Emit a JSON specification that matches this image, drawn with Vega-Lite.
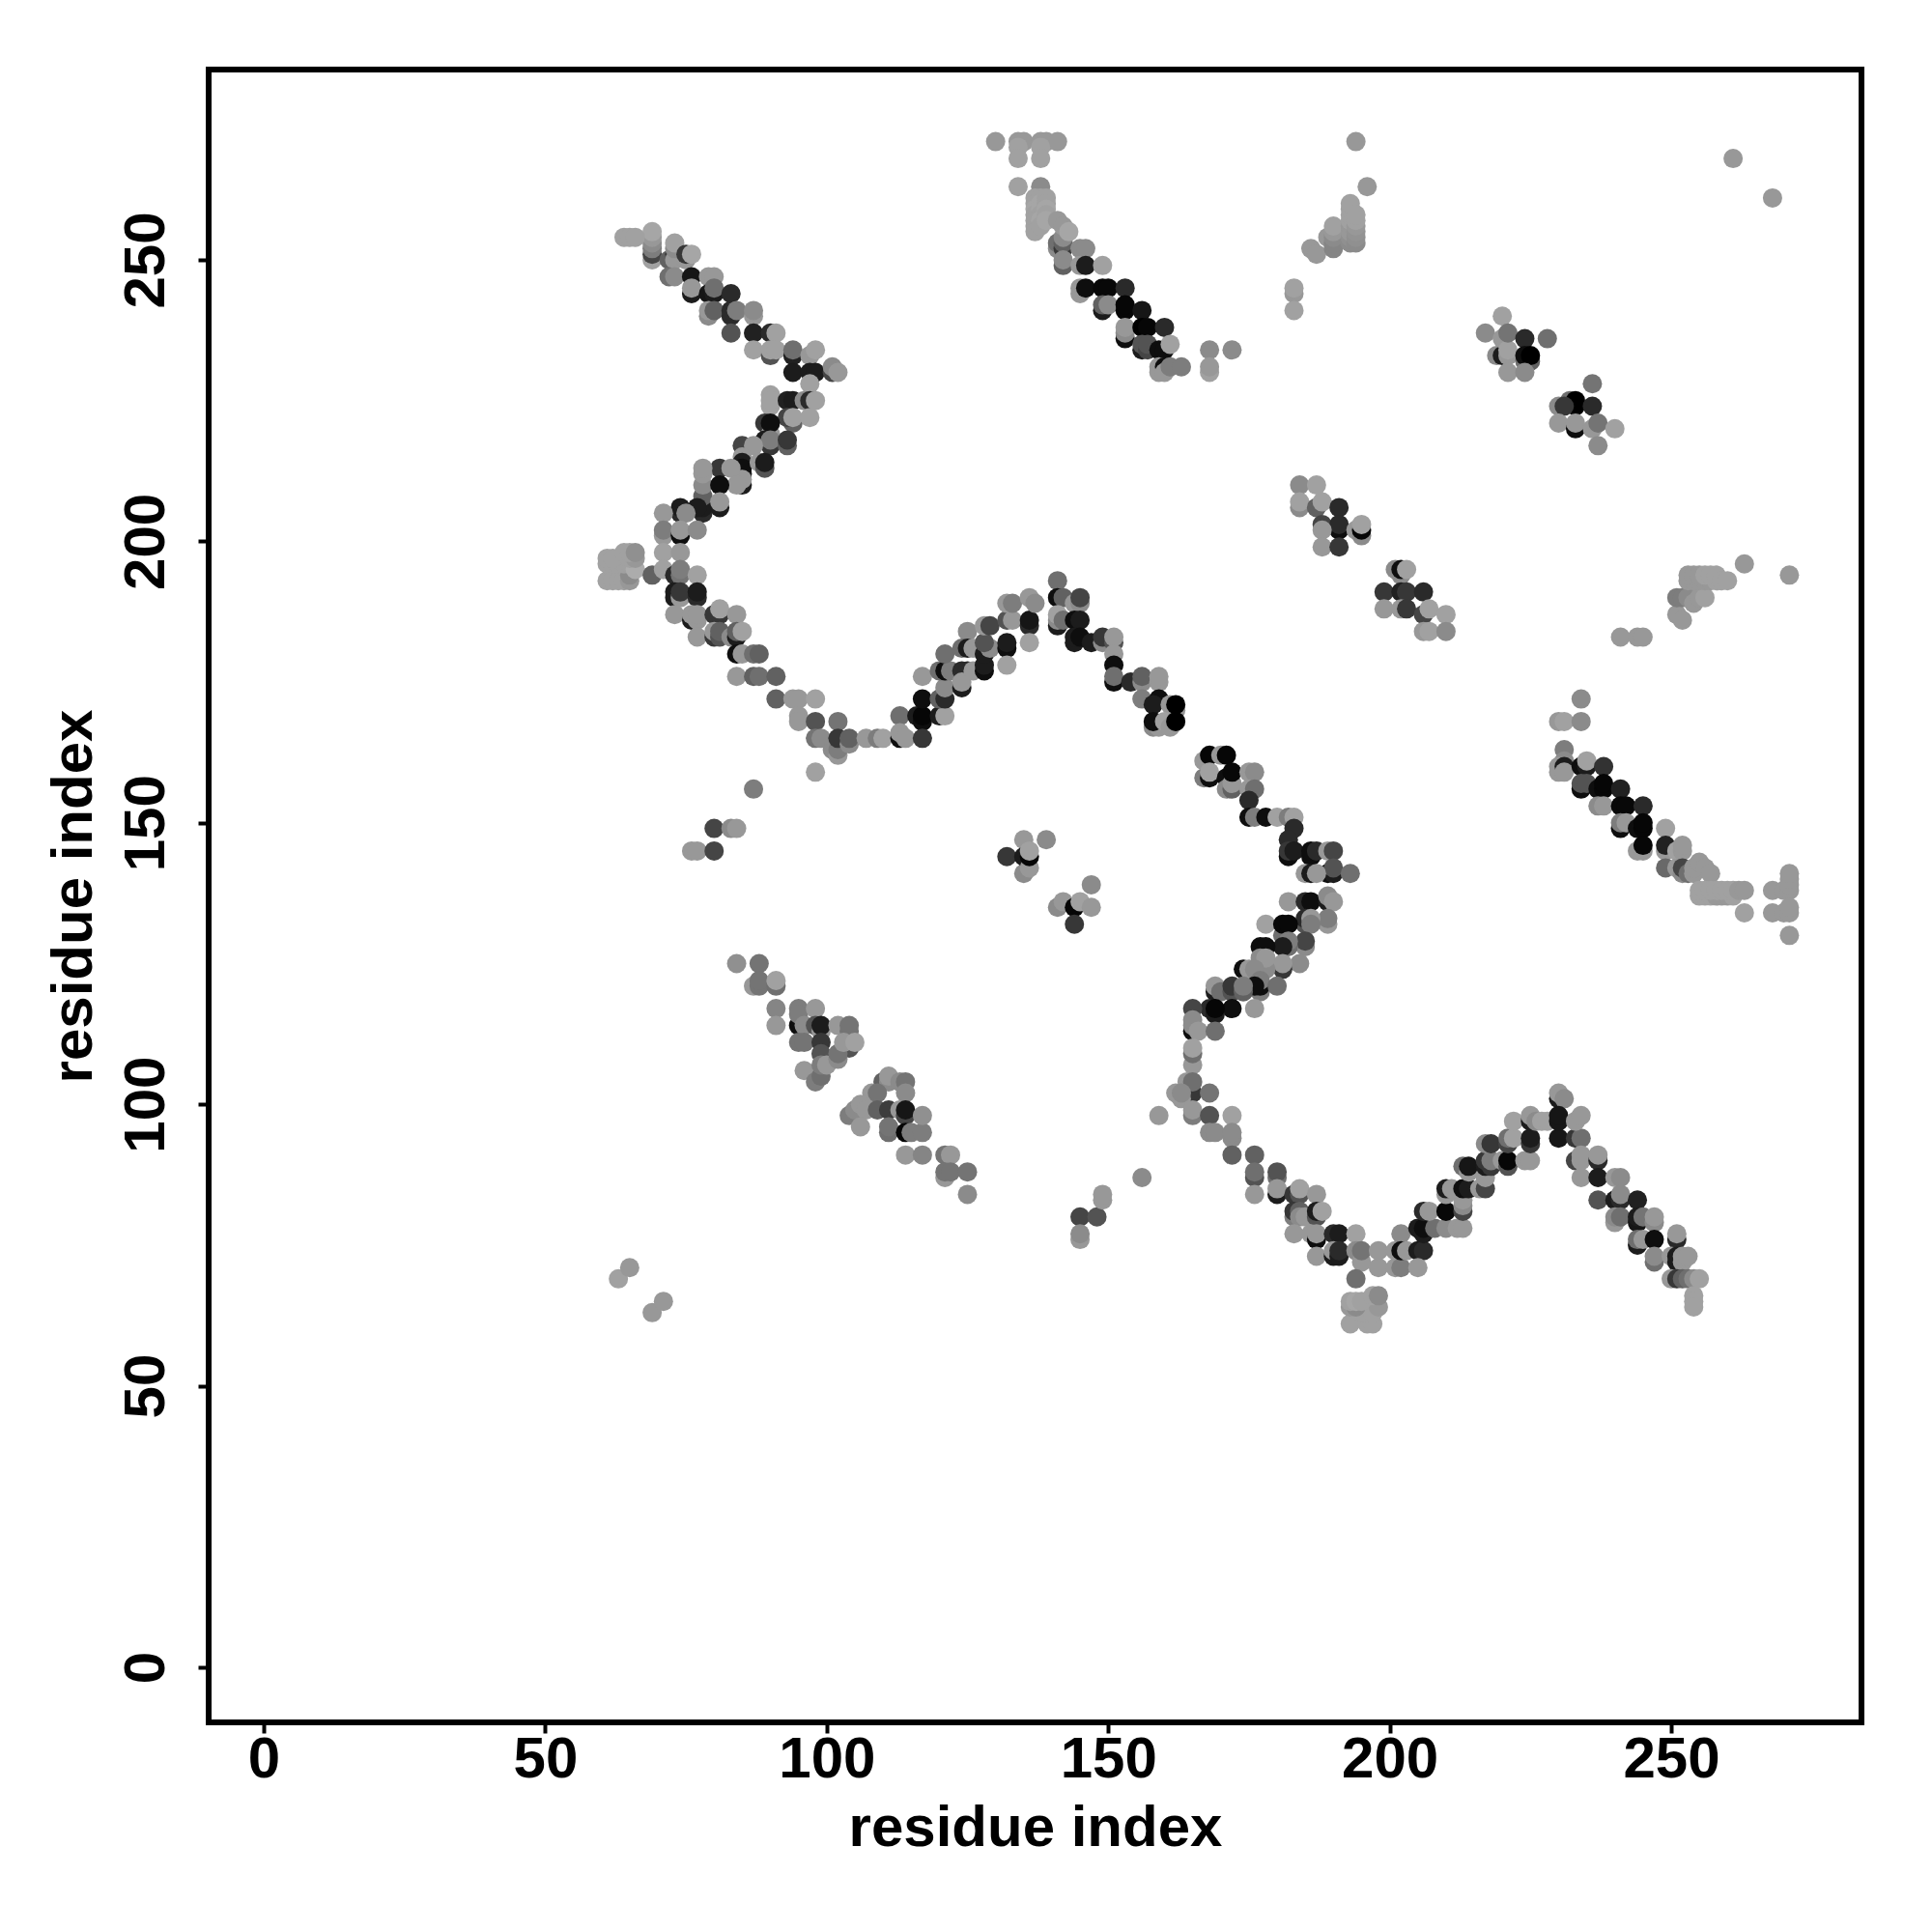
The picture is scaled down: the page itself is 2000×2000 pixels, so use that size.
{"$schema":"https://vega.github.io/schema/vega-lite/v6.json","width":1711,"height":1711,"autosize":{"type":"none"},"padding":{"left":216,"top":72,"right":73,"bottom":217},"background":"white","config":{"view":{"stroke":"#000000","strokeWidth":6,"fill":"white"},"axis":{"grid":false,"domain":false,"tickColor":"#000000","tickWidth":4,"tickSize":11,"labelColor":"#000000","titleColor":"#000000","labelFont":"Liberation Sans","titleFont":"Liberation Sans","labelFontWeight":"bold","titleFontWeight":"bold","labelFontSize":60,"titleFontSize":60}},
"data":{"values":[
{"x":69,"y":250,"v":0.58},{"x":69,"y":251,"v":0.25},{"x":69,"y":252,"v":0.45},{"x":69,"y":253,"v":0.5},{"x":69,"y":254,"v":0.55},{"x":69,"y":255,"v":0.6},{"x":64,"y":254,"v":0.58},{"x":65,"y":254,"v":0.58},{"x":66,"y":254,"v":0.58},
{"x":72,"y":250,"v":0.35},{"x":73,"y":251,"v":0.2},{"x":73,"y":250,"v":0.55},{"x":73,"y":252,"v":0.5},{"x":73,"y":253,"v":0.58},{"x":75,"y":250,"v":0.55},{"x":75,"y":251,"v":0.2},{"x":76,"y":251,"v":0.6},
{"x":72,"y":247,"v":0.4},{"x":73,"y":247,"v":0.5},{"x":76,"y":247,"v":0.08},{"x":79,"y":247,"v":0.55},{"x":80,"y":247,"v":0.55},{"x":76,"y":244,"v":0.1},{"x":76,"y":245,"v":0.55},{"x":79,"y":244,"v":0.08},{"x":80,"y":244,"v":0.1},{"x":80,"y":245,"v":0.4},{"x":83,"y":244,"v":0.15},
{"x":79,"y":240,"v":0.5},{"x":79,"y":241,"v":0.55},{"x":80,"y":241,"v":0.35},{"x":83,"y":240,"v":0.15},{"x":83,"y":241,"v":0.15},{"x":84,"y":241,"v":0.45},{"x":87,"y":240,"v":0.55},{"x":87,"y":241,"v":0.5},{"x":83,"y":237,"v":0.3},{"x":87,"y":237,"v":0.12},{"x":90,"y":237,"v":0.15},{"x":91,"y":237,"v":0.58},
{"x":87,"y":234,"v":0.58},{"x":90,"y":233,"v":0.3},{"x":90,"y":234,"v":0.58},{"x":91,"y":234,"v":0.58},{"x":94,"y":233,"v":0.12},{"x":94,"y":234,"v":0.4},{"x":97,"y":233,"v":0.55},{"x":98,"y":234,"v":0.58},{"x":94,"y":230,"v":0.1},{"x":97,"y":230,"v":0.1},{"x":98,"y":230,"v":0.1},{"x":101,"y":230,"v":0.25},{"x":101,"y":231,"v":0.5},{"x":102,"y":230,"v":0.55},{"x":97,"y":228,"v":0.58},
{"x":90,"y":224,"v":0.58},{"x":90,"y":226,"v":0.58},{"x":90,"y":225,"v":0.58},{"x":93,"y":225,"v":0.12},{"x":94,"y":225,"v":0.1},{"x":96,"y":225,"v":0.5},{"x":97,"y":225,"v":0.15},{"x":98,"y":225,"v":0.58},{"x":94,"y":221,"v":0.35},{"x":93,"y":222,"v":0.25},{"x":94,"y":222,"v":0.58},{"x":97,"y":222,"v":0.58},{"x":89,"y":221,"v":0.2},{"x":90,"y":219,"v":0.55},{"x":90,"y":221,"v":0.05},
{"x":89,"y":218,"v":0.1},{"x":90,"y":217,"v":0.2},{"x":90,"y":218,"v":0.45},{"x":93,"y":217,"v":0.35},{"x":93,"y":218,"v":0.2},{"x":85,"y":217,"v":0.25},{"x":87,"y":217,"v":0.55},{"x":85,"y":215,"v":0.55},{"x":85,"y":212,"v":0.1},{"x":85,"y":214,"v":0.1},{"x":85,"y":213,"v":0.05},{"x":85,"y":210,"v":0.1},{"x":85,"y":211,"v":0.55},{"x":88,"y":214,"v":0.55},{"x":89,"y":213,"v":0.3},{"x":89,"y":214,"v":0.1},
{"x":81,"y":213,"v":0.2},{"x":83,"y":213,"v":0.55},{"x":84,"y":210,"v":0.55},{"x":78,"y":205,"v":0.15},{"x":78,"y":206,"v":0.1},{"x":78,"y":208,"v":0.35},{"x":78,"y":210,"v":0.5},{"x":78,"y":212,"v":0.55},{"x":78,"y":213,"v":0.55},{"x":81,"y":210,"v":0.05},{"x":81,"y":206,"v":0.1},{"x":81,"y":207,"v":0.55},{"x":77,"y":206,"v":0.1},{"x":74,"y":205,"v":0.15},{"x":74,"y":206,"v":0.1},{"x":75,"y":205,"v":0.5},{"x":71,"y":205,"v":0.55},
{"x":71,"y":201,"v":0.55},{"x":71,"y":202,"v":0.45},{"x":74,"y":201,"v":0.05},{"x":74,"y":202,"v":0.55},{"x":77,"y":202,"v":0.5},{"x":71,"y":198,"v":0.58},{"x":74,"y":198,"v":0.55},
{"x":61,"y":193,"v":0.58},{"x":62,"y":193,"v":0.58},{"x":63,"y":193,"v":0.58},{"x":64,"y":193,"v":0.58},{"x":65,"y":193,"v":0.55},{"x":65,"y":194,"v":0.5},{"x":61,"y":196,"v":0.58},{"x":62,"y":196,"v":0.58},{"x":63,"y":196,"v":0.58},{"x":64,"y":196,"v":0.58},{"x":65,"y":196,"v":0.58},{"x":66,"y":195,"v":0.62},{"x":61,"y":197,"v":0.58},{"x":62,"y":197,"v":0.58},{"x":65,"y":197,"v":0.58},{"x":66,"y":197,"v":0.55},{"x":64,"y":198,"v":0.58},{"x":65,"y":198,"v":0.58},{"x":66,"y":198,"v":0.52},
{"x":69,"y":194,"v":0.35},{"x":71,"y":195,"v":0.58},{"x":73,"y":194,"v":0.15},{"x":74,"y":194,"v":0.42},{"x":74,"y":195,"v":0.45},{"x":77,"y":194,"v":0.58},{"x":73,"y":190,"v":0.1},{"x":73,"y":191,"v":0.1},{"x":74,"y":190,"v":0.55},{"x":74,"y":191,"v":0.2},{"x":77,"y":190,"v":0.15},{"x":77,"y":191,"v":0.1},
{"x":73,"y":187,"v":0.55},{"x":76,"y":186,"v":0.1},{"x":76,"y":187,"v":0.55},{"x":77,"y":186,"v":0.55},{"x":77,"y":187,"v":0.55},{"x":80,"y":187,"v":0.2},{"x":81,"y":187,"v":0.2},{"x":81,"y":188,"v":0.58},{"x":84,"y":187,"v":0.55},{"x":77,"y":183,"v":0.55},{"x":80,"y":183,"v":0.2},{"x":80,"y":184,"v":0.55},{"x":81,"y":183,"v":0.3},{"x":81,"y":184,"v":0.35},{"x":83,"y":183,"v":0.5},{"x":84,"y":183,"v":0.1},{"x":84,"y":184,"v":0.35},{"x":85,"y":184,"v":0.58},
{"x":84,"y":180,"v":0.05},{"x":85,"y":180,"v":0.55},{"x":87,"y":180,"v":0.4},{"x":88,"y":180,"v":0.35},{"x":84,"y":176,"v":0.55},{"x":87,"y":176,"v":0.35},{"x":88,"y":176,"v":0.4},{"x":91,"y":176,"v":0.35},{"x":91,"y":172,"v":0.35},{"x":94,"y":172,"v":0.55},{"x":95,"y":172,"v":0.55},{"x":98,"y":172,"v":0.58},{"x":95,"y":169,"v":0.55},{"x":95,"y":168,"v":0.55},{"x":98,"y":168,"v":0.3},{"x":102,"y":168,"v":0.42},
{"x":98,"y":165,"v":0.42},{"x":99,"y":165,"v":0.5},{"x":101,"y":163,"v":0.5},{"x":102,"y":162,"v":0.55},{"x":102,"y":163,"v":0.45},{"x":102,"y":165,"v":0.2},{"x":104,"y":164,"v":0.5},{"x":104,"y":165,"v":0.35},{"x":107,"y":165,"v":0.55},{"x":109,"y":165,"v":0.45},{"x":110,"y":165,"v":0.58},{"x":98,"y":159,"v":0.58},{"x":87,"y":156,"v":0.45},{"x":80,"y":149,"v":0.25},{"x":83,"y":149,"v":0.5},{"x":84,"y":149,"v":0.55},{"x":76,"y":145,"v":0.55},{"x":77,"y":145,"v":0.55},{"x":80,"y":145,"v":0.25},
{"x":113,"y":169,"v":0.4},{"x":113,"y":165,"v":0.05},{"x":113,"y":166,"v":0.55},{"x":114,"y":165,"v":0.55},{"x":116,"y":169,"v":0.1},{"x":117,"y":168,"v":0.05},{"x":117,"y":169,"v":0.02},{"x":117,"y":165,"v":0.2},{"x":117,"y":172,"v":0.05},{"x":117,"y":176,"v":0.55},{"x":120,"y":169,"v":0.1},{"x":121,"y":169,"v":0.58},{"x":120,"y":172,"v":0.35},{"x":121,"y":172,"v":0.15},{"x":121,"y":174,"v":0.5},{"x":120,"y":177,"v":0.4},{"x":121,"y":177,"v":0.05},{"x":122,"y":177,"v":0.45},{"x":121,"y":180,"v":0.4},
{"x":125,"y":184,"v":0.5},{"x":124,"y":181,"v":0.4},{"x":125,"y":181,"v":0.1},{"x":126,"y":181,"v":0.55},{"x":124,"y":177,"v":0.15},{"x":125,"y":177,"v":0.15},{"x":124,"y":174,"v":0.1},{"x":124,"y":175,"v":0.55},{"x":126,"y":177,"v":0.55},{"x":128,"y":177,"v":0.05},{"x":128,"y":178,"v":0.1},{"x":128,"y":180,"v":0.1},{"x":129,"y":181,"v":0.5},{"x":128,"y":182,"v":0.3},{"x":128,"y":185,"v":0.55},{"x":129,"y":185,"v":0.25},
{"x":132,"y":181,"v":0.05},{"x":132,"y":182,"v":0.1},{"x":132,"y":178,"v":0.58},{"x":132,"y":186,"v":0.3},{"x":133,"y":186,"v":0.55},{"x":132,"y":189,"v":0.55},{"x":133,"y":189,"v":0.45},{"x":136,"y":185,"v":0.15},{"x":136,"y":186,"v":0.08},{"x":136,"y":182,"v":0.58},{"x":136,"y":190,"v":0.55},{"x":137,"y":189,"v":0.5},
{"x":141,"y":193,"v":0.4},{"x":141,"y":190,"v":0.05},{"x":142,"y":190,"v":0.35},{"x":141,"y":185,"v":0.1},{"x":141,"y":186,"v":0.5},{"x":141,"y":187,"v":0.58},{"x":142,"y":186,"v":0.4},{"x":144,"y":189,"v":0.55},{"x":145,"y":189,"v":0.5},{"x":145,"y":190,"v":0.25},{"x":144,"y":186,"v":0.05},{"x":145,"y":186,"v":0.1},{"x":144,"y":182,"v":0.1},{"x":144,"y":183,"v":0.1},{"x":145,"y":183,"v":0.05},{"x":147,"y":182,"v":0.1},{"x":149,"y":182,"v":0.5},{"x":149,"y":183,"v":0.2},{"x":151,"y":182,"v":0.3},{"x":151,"y":183,"v":0.55},{"x":151,"y":180,"v":0.55},{"x":151,"y":178,"v":0.05},{"x":151,"y":175,"v":0.05},{"x":151,"y":176,"v":0.4},
{"x":154,"y":175,"v":0.15},{"x":156,"y":175,"v":0.5},{"x":156,"y":176,"v":0.35},{"x":159,"y":175,"v":0.55},{"x":159,"y":176,"v":0.55},{"x":156,"y":172,"v":0.45},{"x":159,"y":172,"v":0.05},{"x":158,"y":171,"v":0.1},{"x":161,"y":171,"v":0.55},{"x":162,"y":170,"v":0.55},{"x":162,"y":171,"v":0},{"x":158,"y":167,"v":0.5},{"x":159,"y":167,"v":0.55},{"x":158,"y":168,"v":0.05},{"x":160,"y":168,"v":0.58},{"x":161,"y":167,"v":0.55},{"x":162,"y":168,"v":0},
{"x":167,"y":158,"v":0.45},{"x":167,"y":161,"v":0.55},{"x":168,"y":162,"v":0.02},{"x":168,"y":158,"v":0.05},{"x":168,"y":159,"v":0.58},{"x":170,"y":162,"v":0.55},{"x":171,"y":162,"v":0.02},{"x":171,"y":158,"v":0.05},{"x":171,"y":156,"v":0.5},{"x":172,"y":156,"v":0.35},{"x":172,"y":157,"v":0.55},{"x":172,"y":159,"v":0.03},{"x":175,"y":159,"v":0.55},{"x":176,"y":159,"v":0.5},{"x":175,"y":156,"v":0.55},{"x":176,"y":156,"v":0.4},{"x":175,"y":154,"v":0.15},
{"x":175,"y":151,"v":0.05},{"x":176,"y":151,"v":0.45},{"x":178,"y":151,"v":0.05},{"x":180,"y":151,"v":0.58},{"x":182,"y":151,"v":0.45},{"x":183,"y":151,"v":0.58},{"x":183,"y":149,"v":0.15},{"x":182,"y":147,"v":0.15},{"x":182,"y":144,"v":0.05},{"x":182,"y":145,"v":0.2},{"x":183,"y":145,"v":0.1},{"x":186,"y":144,"v":0.05},{"x":186,"y":145,"v":0.05},{"x":187,"y":145,"v":0.15},{"x":189,"y":145,"v":0.55},{"x":190,"y":145,"v":0.25},{"x":189,"y":141,"v":0.05},{"x":190,"y":141,"v":0.1},{"x":190,"y":142,"v":0.3},{"x":193,"y":141,"v":0.4},{"x":185,"y":141,"v":0.55},{"x":186,"y":141,"v":0.1},{"x":187,"y":141,"v":0.55},
{"x":135,"y":147,"v":0.55},{"x":139,"y":147,"v":0.5},{"x":132,"y":144,"v":0.2},{"x":135,"y":141,"v":0.5},{"x":135,"y":144,"v":0.1},{"x":136,"y":142,"v":0.55},{"x":136,"y":144,"v":0.02},{"x":136,"y":145,"v":0.58},{"x":147,"y":139,"v":0.5},{"x":141,"y":135,"v":0.5},{"x":142,"y":136,"v":0.55},{"x":144,"y":135,"v":0.02},{"x":145,"y":136,"v":0.58},{"x":147,"y":135,"v":0.55},{"x":144,"y":132,"v":0.2},
{"x":182,"y":136,"v":0.55},{"x":185,"y":136,"v":0.15},{"x":186,"y":136,"v":0.05},{"x":189,"y":136,"v":0.1},{"x":189,"y":137,"v":0.5},{"x":190,"y":136,"v":0.55},{"x":189,"y":132,"v":0.55},{"x":189,"y":133,"v":0.45},{"x":185,"y":132,"v":0.3},{"x":185,"y":133,"v":0.15},{"x":186,"y":133,"v":0.55},{"x":186,"y":132,"v":0.45},{"x":178,"y":132,"v":0.58},{"x":181,"y":130,"v":0.4},{"x":181,"y":132,"v":0.03},{"x":182,"y":132,"v":0.03},
{"x":185,"y":128,"v":0.5},{"x":185,"y":129,"v":0.25},{"x":182,"y":128,"v":0.4},{"x":182,"y":129,"v":0.45},{"x":181,"y":128,"v":0.1},{"x":177,"y":128,"v":0.05},{"x":178,"y":128,"v":0.05},{"x":184,"y":125,"v":0.5},{"x":181,"y":124,"v":0.2},{"x":181,"y":125,"v":0.55},{"x":177,"y":124,"v":0.1},{"x":178,"y":124,"v":0.5},{"x":177,"y":126,"v":0.5},{"x":178,"y":126,"v":0.55},{"x":174,"y":124,"v":0.05},{"x":175,"y":124,"v":0.55},{"x":176,"y":124,"v":0.5},
{"x":177,"y":120,"v":0.45},{"x":177,"y":121,"v":0.05},{"x":177,"y":122,"v":0.45},{"x":180,"y":121,"v":0.4},{"x":176,"y":121,"v":0.05},{"x":169,"y":120,"v":0.1},{"x":169,"y":121,"v":0.55},{"x":170,"y":120,"v":0.4},{"x":172,"y":120,"v":0.3},{"x":172,"y":121,"v":0.2},{"x":174,"y":120,"v":0.35},{"x":174,"y":121,"v":0.45},{"x":176,"y":117,"v":0.55},{"x":172,"y":117,"v":0.05},{"x":168,"y":117,"v":0.15},{"x":169,"y":116,"v":0.1},{"x":169,"y":117,"v":0.02},{"x":165,"y":117,"v":0.25},
{"x":165,"y":113,"v":0.05},{"x":165,"y":114,"v":0.5},{"x":165,"y":115,"v":0.5},{"x":166,"y":113,"v":0.55},{"x":169,"y":113,"v":0.4},{"x":165,"y":107,"v":0.55},{"x":165,"y":109,"v":0.4},{"x":165,"y":110,"v":0.58},{"x":164,"y":104,"v":0.55},{"x":165,"y":102,"v":0.2},{"x":165,"y":104,"v":0.4},{"x":162,"y":102,"v":0.55},{"x":163,"y":101,"v":0.55},{"x":163,"y":102,"v":0.5},{"x":168,"y":102,"v":0.42},{"x":165,"y":98,"v":0.45},{"x":165,"y":99,"v":0.55},{"x":168,"y":98,"v":0.3},{"x":172,"y":98,"v":0.58},{"x":159,"y":98,"v":0.55},{"x":168,"y":95,"v":0.5},{"x":169,"y":95,"v":0.5},{"x":172,"y":94,"v":0.5},{"x":172,"y":95,"v":0.5},
{"x":172,"y":91,"v":0.35},{"x":176,"y":91,"v":0.35},{"x":176,"y":87,"v":0.3},{"x":176,"y":88,"v":0.4},{"x":176,"y":84,"v":0.55},{"x":180,"y":87,"v":0.4},{"x":180,"y":88,"v":0.3},{"x":180,"y":84,"v":0.1},{"x":180,"y":85,"v":0.55},{"x":183,"y":84,"v":0.2},{"x":184,"y":84,"v":0.3},{"x":184,"y":85,"v":0.58},{"x":187,"y":84,"v":0.55},{"x":183,"y":80,"v":0.45},{"x":183,"y":81,"v":0.2},{"x":184,"y":81,"v":0.35},{"x":184,"y":80,"v":0.5},{"x":185,"y":80,"v":0.55},{"x":187,"y":80,"v":0.3},{"x":187,"y":81,"v":0.1},{"x":188,"y":81,"v":0.58},
{"x":183,"y":77,"v":0.55},{"x":186,"y":77,"v":0.55},{"x":187,"y":76,"v":0.05},{"x":187,"y":77,"v":0.55},{"x":187,"y":73,"v":0.55},{"x":190,"y":77,"v":0.15},{"x":191,"y":77,"v":0.1},{"x":194,"y":77,"v":0.58},{"x":190,"y":73,"v":0.1},{"x":190,"y":74,"v":0.55},{"x":191,"y":73,"v":0.1},{"x":191,"y":74,"v":0.15},{"x":194,"y":74,"v":0.5},{"x":195,"y":72,"v":0.55},{"x":195,"y":74,"v":0.42},{"x":194,"y":69,"v":0.4},{"x":198,"y":71,"v":0.55},{"x":198,"y":74,"v":0.55},{"x":201,"y":71,"v":0.55},{"x":201,"y":74,"v":0.55},{"x":202,"y":71,"v":0.45},{"x":202,"y":77,"v":0.5},{"x":202,"y":74,"v":0.05},{"x":203,"y":74,"v":0.55},{"x":205,"y":74,"v":0.1},{"x":206,"y":74,"v":0.15},{"x":205,"y":71,"v":0.55},
{"x":193,"y":61,"v":0.58},{"x":196,"y":61,"v":0.58},{"x":197,"y":61,"v":0.58},{"x":195,"y":63,"v":0.58},{"x":196,"y":63,"v":0.58},{"x":197,"y":63,"v":0.58},{"x":193,"y":64,"v":0.55},{"x":194,"y":64,"v":0.5},{"x":198,"y":64,"v":0.55},{"x":193,"y":65,"v":0.58},{"x":194,"y":65,"v":0.6},{"x":195,"y":65,"v":0.58},{"x":197,"y":66,"v":0.58},{"x":198,"y":66,"v":0.5},
{"x":205,"y":78,"v":0.1},{"x":206,"y":77,"v":0.1},{"x":206,"y":78,"v":0.05},{"x":208,"y":78,"v":0.4},{"x":210,"y":78,"v":0.5},{"x":212,"y":78,"v":0.55},{"x":213,"y":78,"v":0.55},{"x":206,"y":81,"v":0.15},{"x":207,"y":81,"v":0.55},{"x":210,"y":81,"v":0.03},{"x":213,"y":81,"v":0.25},{"x":213,"y":82,"v":0.5},{"x":213,"y":83,"v":0.55},{"x":210,"y":84,"v":0.55},{"x":210,"y":85,"v":0.1},{"x":211,"y":85,"v":0.55},{"x":213,"y":85,"v":0.05},{"x":214,"y":85,"v":0.1},{"x":216,"y":85,"v":0.55},{"x":217,"y":85,"v":0.25},{"x":213,"y":89,"v":0.4},{"x":214,"y":88,"v":0.55},{"x":214,"y":89,"v":0.08},
{"x":217,"y":87,"v":0.55},{"x":217,"y":89,"v":0.1},{"x":217,"y":90,"v":0.2},{"x":218,"y":89,"v":0.2},{"x":218,"y":90,"v":0.45},{"x":220,"y":90,"v":0.55},{"x":221,"y":89,"v":0.3},{"x":221,"y":90,"v":0.02},{"x":224,"y":90,"v":0.55},{"x":225,"y":90,"v":0.55},{"x":217,"y":93,"v":0.5},{"x":218,"y":93,"v":0.2},{"x":221,"y":93,"v":0.25},{"x":221,"y":94,"v":0.4},{"x":222,"y":94,"v":0.58},{"x":225,"y":93,"v":0.2},{"x":225,"y":94,"v":0.1},{"x":222,"y":97,"v":0.58},{"x":225,"y":97,"v":0.1},{"x":225,"y":98,"v":0.55},{"x":226,"y":97,"v":0.5},{"x":227,"y":97,"v":0.58},
{"x":228,"y":97,"v":0.58},{"x":230,"y":101,"v":0.1},{"x":230,"y":102,"v":0.55},{"x":231,"y":101,"v":0.5},{"x":230,"y":94,"v":0.08},{"x":230,"y":97,"v":0.08},{"x":230,"y":98,"v":0.08},{"x":233,"y":94,"v":0.2},{"x":234,"y":94,"v":0.4},{"x":233,"y":97,"v":0.55},{"x":234,"y":98,"v":0.55},{"x":233,"y":90,"v":0.25},{"x":234,"y":90,"v":0.55},{"x":234,"y":91,"v":0.55},{"x":234,"y":87,"v":0.55},{"x":237,"y":90,"v":0.15},{"x":237,"y":91,"v":0.55},{"x":237,"y":87,"v":0.1},{"x":240,"y":87,"v":0.55},{"x":241,"y":87,"v":0.5},
{"x":237,"y":83,"v":0.3},{"x":240,"y":83,"v":0.1},{"x":241,"y":83,"v":0.15},{"x":241,"y":84,"v":0.5},{"x":244,"y":83,"v":0.12},{"x":240,"y":79,"v":0.55},{"x":240,"y":80,"v":0.5},{"x":241,"y":80,"v":0.4},{"x":244,"y":79,"v":0.08},{"x":244,"y":80,"v":0.1},{"x":245,"y":80,"v":0.42},{"x":247,"y":79,"v":0.5},{"x":247,"y":80,"v":0.55},{"x":244,"y":75,"v":0.1},{"x":244,"y":76,"v":0.4},{"x":245,"y":76,"v":0.55},{"x":247,"y":76,"v":0.05},{"x":251,"y":76,"v":0.15},{"x":251,"y":77,"v":0.55},{"x":247,"y":72,"v":0.4},{"x":247,"y":73,"v":0.5},{"x":250,"y":73,"v":0.55},{"x":251,"y":72,"v":0.1},{"x":251,"y":73,"v":0.1},{"x":252,"y":72,"v":0.55},{"x":252,"y":73,"v":0.55},{"x":253,"y":73,"v":0.55},
{"x":250,"y":69,"v":0.55},{"x":251,"y":69,"v":0.2},{"x":252,"y":69,"v":0.35},{"x":253,"y":69,"v":0.4},{"x":254,"y":69,"v":0.5},{"x":255,"y":69,"v":0.58},{"x":254,"y":66,"v":0.58},{"x":254,"y":65,"v":0.58},{"x":254,"y":64,"v":0.58},
{"x":130,"y":271,"v":0.55},{"x":134,"y":271,"v":0.55},{"x":135,"y":271,"v":0.55},{"x":134,"y":270,"v":0.58},{"x":134,"y":268,"v":0.58},{"x":138,"y":271,"v":0.55},{"x":139,"y":271,"v":0.55},{"x":141,"y":271,"v":0.55},{"x":138,"y":270,"v":0.58},{"x":138,"y":268,"v":0.58},{"x":134,"y":263,"v":0.58},{"x":138,"y":263,"v":0.5},
{"x":137,"y":261,"v":0.58},{"x":137,"y":260,"v":0.58},{"x":137,"y":259,"v":0.6},{"x":137,"y":258,"v":0.58},{"x":137,"y":257,"v":0.58},{"x":137,"y":256,"v":0.58},{"x":137,"y":255,"v":0.58},{"x":138,"y":261,"v":0.58},{"x":138,"y":260,"v":0.6},{"x":138,"y":259,"v":0.6},{"x":138,"y":258,"v":0.58},{"x":138,"y":257,"v":0.6},{"x":138,"y":256,"v":0.58},{"x":139,"y":261,"v":0.58},{"x":139,"y":260,"v":0.58},{"x":139,"y":259,"v":0.6},{"x":139,"y":258,"v":0.58},{"x":139,"y":257,"v":0.6},
{"x":141,"y":252,"v":0.5},{"x":141,"y":253,"v":0.4},{"x":142,"y":252,"v":0.2},{"x":142,"y":253,"v":0.35},{"x":142,"y":254,"v":0.5},{"x":142,"y":249,"v":0.35},{"x":142,"y":250,"v":0.5},{"x":141,"y":257,"v":0.55},{"x":142,"y":256,"v":0.55},{"x":143,"y":255,"v":0.6},{"x":145,"y":252,"v":0.5},{"x":146,"y":252,"v":0.5},{"x":145,"y":249,"v":0.55},{"x":146,"y":249,"v":0.1},{"x":149,"y":249,"v":0.58},{"x":145,"y":244,"v":0.55},{"x":145,"y":245,"v":0.55},{"x":146,"y":245,"v":0.05},{"x":149,"y":245,"v":0.03},{"x":150,"y":245,"v":0.03},{"x":153,"y":245,"v":0.15},
{"x":149,"y":241,"v":0.1},{"x":149,"y":242,"v":0.35},{"x":150,"y":242,"v":0.5},{"x":153,"y":241,"v":0.02},{"x":153,"y":242,"v":0.02},{"x":156,"y":241,"v":0.08},{"x":153,"y":236,"v":0.05},{"x":153,"y":237,"v":0.5},{"x":153,"y":238,"v":0.55},{"x":156,"y":238,"v":0},{"x":157,"y":238,"v":0.02},{"x":160,"y":238,"v":0.15},{"x":156,"y":234,"v":0.1},{"x":156,"y":235,"v":0.3},{"x":157,"y":234,"v":0.25},{"x":157,"y":235,"v":0.3},{"x":159,"y":234,"v":0.05},{"x":160,"y":234,"v":0.05},{"x":161,"y":235,"v":0.58},
{"x":159,"y":230,"v":0.55},{"x":159,"y":231,"v":0.55},{"x":160,"y":231,"v":0.05},{"x":160,"y":230,"v":0.55},{"x":161,"y":231,"v":0.45},{"x":163,"y":231,"v":0.45},{"x":168,"y":234,"v":0.5},{"x":172,"y":234,"v":0.5},{"x":168,"y":230,"v":0.58},{"x":168,"y":231,"v":0.55},{"x":183,"y":244,"v":0.55},{"x":183,"y":245,"v":0.58},{"x":183,"y":241,"v":0.58},{"x":194,"y":271,"v":0.55},{"x":196,"y":263,"v":0.55},{"x":261,"y":268,"v":0.55},{"x":268,"y":261,"v":0.55},
{"x":186,"y":252,"v":0.55},{"x":187,"y":251,"v":0.55},{"x":189,"y":254,"v":0.55},{"x":190,"y":252,"v":0.48},{"x":190,"y":253,"v":0.48},{"x":190,"y":254,"v":0.5},{"x":190,"y":255,"v":0.55},{"x":190,"y":256,"v":0.58},{"x":193,"y":253,"v":0.5},{"x":193,"y":254,"v":0.52},{"x":193,"y":255,"v":0.55},{"x":193,"y":256,"v":0.55},{"x":193,"y":257,"v":0.58},{"x":193,"y":258,"v":0.58},{"x":193,"y":259,"v":0.58},{"x":193,"y":260,"v":0.58},{"x":194,"y":253,"v":0.5},{"x":194,"y":254,"v":0.52},{"x":194,"y":255,"v":0.53},{"x":194,"y":256,"v":0.55},{"x":194,"y":257,"v":0.58},{"x":194,"y":258,"v":0.58},
{"x":217,"y":237,"v":0.5},{"x":219,"y":233,"v":0.5},{"x":220,"y":233,"v":0.1},{"x":220,"y":236,"v":0.55},{"x":220,"y":240,"v":0.58},{"x":221,"y":233,"v":0.55},{"x":221,"y":234,"v":0.58},{"x":221,"y":237,"v":0.42},{"x":224,"y":236,"v":0.15},{"x":228,"y":236,"v":0.4},{"x":224,"y":232,"v":0.4},{"x":225,"y":232,"v":0.35},{"x":224,"y":233,"v":0.05},{"x":225,"y":233,"v":0},{"x":221,"y":230,"v":0.55},{"x":224,"y":230,"v":0.5},
{"x":236,"y":228,"v":0.42},{"x":232,"y":225,"v":0.4},{"x":233,"y":224,"v":0},{"x":233,"y":225,"v":0},{"x":230,"y":224,"v":0.5},{"x":231,"y":224,"v":0.2},{"x":236,"y":224,"v":0.15},{"x":230,"y":221,"v":0.55},{"x":233,"y":220,"v":0.05},{"x":233,"y":221,"v":0.55},{"x":236,"y":220,"v":0.55},{"x":237,"y":221,"v":0.42},{"x":240,"y":220,"v":0.58},{"x":237,"y":217,"v":0.5},
{"x":184,"y":210,"v":0.5},{"x":187,"y":210,"v":0.58},{"x":184,"y":206,"v":0.5},{"x":184,"y":207,"v":0.58},{"x":187,"y":206,"v":0.35},{"x":188,"y":207,"v":0.58},{"x":191,"y":206,"v":0.15},{"x":188,"y":203,"v":0.25},{"x":191,"y":202,"v":0.05},{"x":191,"y":203,"v":0.15},{"x":188,"y":202,"v":0.55},{"x":194,"y":202,"v":0.55},{"x":195,"y":201,"v":0.5},{"x":195,"y":202,"v":0.02},{"x":195,"y":203,"v":0.58},{"x":188,"y":199,"v":0.55},{"x":191,"y":199,"v":0.2},
{"x":201,"y":195,"v":0.5},{"x":202,"y":194,"v":0.5},{"x":202,"y":195,"v":0.05},{"x":203,"y":195,"v":0.58},{"x":199,"y":191,"v":0.2},{"x":202,"y":191,"v":0.12},{"x":203,"y":191,"v":0.2},{"x":206,"y":191,"v":0.15},{"x":199,"y":188,"v":0.55},{"x":202,"y":188,"v":0.55},{"x":203,"y":188,"v":0.2},{"x":206,"y":187,"v":0.25},{"x":207,"y":188,"v":0.58},{"x":210,"y":187,"v":0.58},{"x":206,"y":184,"v":0.55},{"x":207,"y":184,"v":0.58},{"x":210,"y":184,"v":0.5},
{"x":241,"y":183,"v":0.55},{"x":244,"y":183,"v":0.55},{"x":245,"y":183,"v":0.55},{"x":251,"y":187,"v":0.55},{"x":252,"y":186,"v":0.55},{"x":251,"y":190,"v":0.45},{"x":252,"y":190,"v":0.45},{"x":253,"y":190,"v":0.5},{"x":254,"y":189,"v":0.55},{"x":255,"y":190,"v":0.55},{"x":256,"y":190,"v":0.58},{"x":253,"y":193,"v":0.55},{"x":254,"y":193,"v":0.55},{"x":255,"y":193,"v":0.55},{"x":256,"y":193,"v":0.55},{"x":257,"y":193,"v":0.55},{"x":258,"y":193,"v":0.58},{"x":253,"y":194,"v":0.55},{"x":254,"y":194,"v":0.55},{"x":255,"y":194,"v":0.55},{"x":256,"y":194,"v":0.58},{"x":257,"y":194,"v":0.58},{"x":258,"y":194,"v":0.58},{"x":259,"y":193,"v":0.58},{"x":260,"y":193,"v":0.58},{"x":263,"y":196,"v":0.55},{"x":271,"y":194,"v":0.55},
{"x":234,"y":172,"v":0.5},{"x":230,"y":168,"v":0.55},{"x":231,"y":168,"v":0.58},{"x":234,"y":168,"v":0.5},{"x":231,"y":163,"v":0.45},{"x":231,"y":161,"v":0.5},{"x":230,"y":159,"v":0.55},{"x":230,"y":160,"v":0.55},{"x":231,"y":160,"v":0.1},{"x":231,"y":159,"v":0.55},{"x":234,"y":160,"v":0.05},{"x":235,"y":160,"v":0.1},{"x":235,"y":161,"v":0.58},{"x":238,"y":160,"v":0.18},{"x":234,"y":156,"v":0.05},{"x":234,"y":157,"v":0.3},{"x":235,"y":157,"v":0.3},{"x":237,"y":156,"v":0.05},{"x":238,"y":156,"v":0.02},{"x":238,"y":157,"v":0.02},{"x":241,"y":156,"v":0.12},
{"x":237,"y":153,"v":0.5},{"x":238,"y":153,"v":0.55},{"x":241,"y":153,"v":0.03},{"x":242,"y":153,"v":0.03},{"x":245,"y":153,"v":0.15},{"x":241,"y":149,"v":0.05},{"x":241,"y":150,"v":0.45},{"x":242,"y":150,"v":0.55},{"x":244,"y":149,"v":0.05},{"x":245,"y":149,"v":0.02},{"x":245,"y":150,"v":0.02},{"x":244,"y":145,"v":0.55},{"x":245,"y":145,"v":0.55},{"x":245,"y":146,"v":0.02},{"x":249,"y":149,"v":0.58},{"x":249,"y":145,"v":0.55},{"x":249,"y":146,"v":0.12},{"x":249,"y":142,"v":0.38},
{"x":251,"y":145,"v":0.58},{"x":252,"y":145,"v":0.55},{"x":252,"y":146,"v":0.55},{"x":251,"y":142,"v":0.55},{"x":252,"y":141,"v":0.5},{"x":252,"y":142,"v":0.25},{"x":253,"y":141,"v":0.4},{"x":254,"y":141,"v":0.55},{"x":254,"y":142,"v":0.55},{"x":255,"y":143,"v":0.55},{"x":256,"y":142,"v":0.55},{"x":257,"y":141,"v":0.55},
{"x":255,"y":137,"v":0.58},{"x":256,"y":137,"v":0.58},{"x":257,"y":137,"v":0.58},{"x":258,"y":137,"v":0.55},{"x":259,"y":137,"v":0.55},{"x":260,"y":137,"v":0.55},{"x":261,"y":137,"v":0.58},{"x":255,"y":138,"v":0.58},{"x":256,"y":138,"v":0.58},{"x":257,"y":138,"v":0.58},{"x":258,"y":138,"v":0.58},{"x":259,"y":138,"v":0.58},{"x":260,"y":138,"v":0.58},{"x":261,"y":138,"v":0.58},{"x":262,"y":138,"v":0.55},{"x":263,"y":138,"v":0.55},{"x":263,"y":134,"v":0.58},{"x":268,"y":138,"v":0.55},{"x":268,"y":134,"v":0.55},{"x":270,"y":138,"v":0.55},{"x":271,"y":138,"v":0.55},{"x":271,"y":139,"v":0.55},{"x":271,"y":140,"v":0.55},{"x":271,"y":141,"v":0.55},{"x":270,"y":134,"v":0.55},{"x":271,"y":134,"v":0.55},{"x":271,"y":135,"v":0.55},{"x":271,"y":130,"v":0.55},
{"x":84,"y":125,"v":0.52},{"x":88,"y":125,"v":0.42},{"x":87,"y":121,"v":0.55},{"x":88,"y":121,"v":0.42},{"x":88,"y":122,"v":0.42},{"x":91,"y":121,"v":0.4},{"x":91,"y":122,"v":0.58},{"x":91,"y":117,"v":0.48},{"x":91,"y":114,"v":0.55},{"x":95,"y":114,"v":0.05},{"x":95,"y":117,"v":0.45},{"x":95,"y":116,"v":0.45},{"x":96,"y":114,"v":0.5},{"x":98,"y":117,"v":0.55},{"x":98,"y":114,"v":0.3},{"x":99,"y":113,"v":0.55},{"x":99,"y":114,"v":0.1},{"x":95,"y":111,"v":0.42},{"x":96,"y":111,"v":0.42},{"x":99,"y":111,"v":0.2},{"x":99,"y":109,"v":0.3},{"x":96,"y":106,"v":0.55},{"x":98,"y":104,"v":0.45},{"x":99,"y":105,"v":0.4},{"x":99,"y":107,"v":0.45},{"x":100,"y":107,"v":0.55},
{"x":102,"y":114,"v":0.55},{"x":104,"y":113,"v":0.42},{"x":104,"y":114,"v":0.42},{"x":104,"y":110,"v":0.3},{"x":102,"y":108,"v":0.5},{"x":102,"y":109,"v":0.42},{"x":103,"y":111,"v":0.55},{"x":105,"y":111,"v":0.58},{"x":110,"y":104,"v":0.35},{"x":111,"y":104,"v":0.5},{"x":111,"y":105,"v":0.55},{"x":113,"y":104,"v":0.5},{"x":114,"y":104,"v":0.42},{"x":114,"y":102,"v":0.5},{"x":108,"y":102,"v":0.55},{"x":109,"y":102,"v":0.42},
{"x":104,"y":98,"v":0.45},{"x":105,"y":99,"v":0.5},{"x":106,"y":100,"v":0.55},{"x":107,"y":99,"v":0.55},{"x":109,"y":99,"v":0.35},{"x":111,"y":99,"v":0.22},{"x":113,"y":99,"v":0.55},{"x":114,"y":98,"v":0.25},{"x":114,"y":99,"v":0.08},{"x":106,"y":96,"v":0.55},{"x":111,"y":95,"v":0.4},{"x":111,"y":96,"v":0.42},{"x":114,"y":95,"v":0.02},{"x":115,"y":95,"v":0.45},{"x":117,"y":95,"v":0.45},{"x":117,"y":98,"v":0.52},{"x":114,"y":91,"v":0.55},{"x":117,"y":91,"v":0.48},{"x":121,"y":91,"v":0.42},{"x":122,"y":91,"v":0.55},{"x":121,"y":87,"v":0.55},{"x":121,"y":88,"v":0.42},{"x":122,"y":88,"v":0.42},{"x":125,"y":88,"v":0.42},{"x":125,"y":84,"v":0.5},
{"x":145,"y":80,"v":0.25},{"x":145,"y":76,"v":0.55},{"x":145,"y":77,"v":0.5},{"x":148,"y":80,"v":0.3},{"x":149,"y":83,"v":0.55},{"x":149,"y":84,"v":0.55},{"x":156,"y":87,"v":0.5},{"x":63,"y":69,"v":0.58},{"x":65,"y":71,"v":0.55},{"x":69,"y":63,"v":0.55},{"x":71,"y":65,"v":0.55}
]},
"mark":{"type":"point","filled":true,"opacity":1,"size":400,"strokeWidth":0},
"encoding":{
"x":{"field":"x","type":"quantitative","scale":{"domain":[-9.78,283.8],"nice":false,"zero":false},"axis":{"values":[0,50,100,150,200,250],"title":"residue index","labelPadding":-2,"titleY":80,"labelFlush":false,"labelOverlap":false}},
"y":{"field":"y","type":"quantitative","scale":{"domain":[-9.78,283.8],"nice":false,"zero":false},"axis":{"values":[0,50,100,150,200,250],"title":"residue index","labelAngle":-90,"labelAlign":"center","labelBaseline":"bottom","labelPadding":23,"titleX":-109,"labelFlush":false,"labelOverlap":false}},
"color":{"field":"v","type":"quantitative","scale":{"domain":[0,0.92],"range":["#000000","#ffffff"],"interpolate":"rgb"},"legend":null}
}}
